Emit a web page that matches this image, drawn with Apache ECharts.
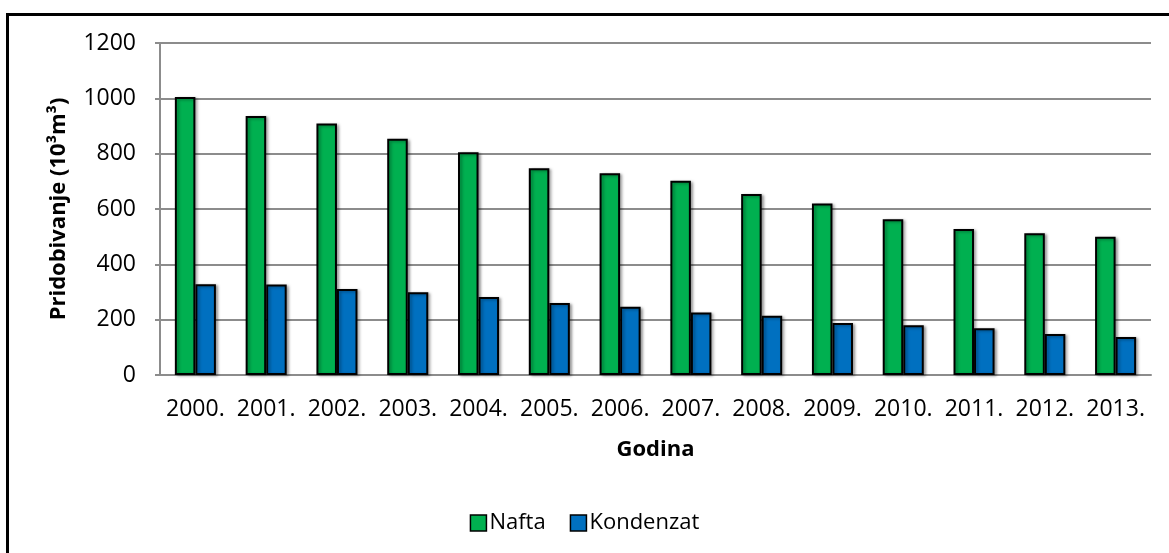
<!DOCTYPE html>
<html>
<head>
    <meta charset="utf-8">
    <script src="https://cdn.jsdelivr.net/npm/echarts@6/dist/echarts.min.js"></script>
    <style>
        html, body { margin: 0; padding: 0; background: #fff; overflow: hidden; }
        #frame { position: absolute; left: 6px; top: 13px; width: 1200px; height: 600px;
                 border-left: 3px solid #000; border-top: 3px solid #000; }
        #main { position: absolute; left: 0; top: 0; width: 1169px; height: 553px; }
    </style>
</head>
<body>
    <div id="frame"></div>
    <div id="main"></div>
    <script type="text/javascript">
        // podaci sa slike
        var godine = ['2000.', '2001.', '2002.', '2003.', '2004.', '2005.', '2006.',
                      '2007.', '2008.', '2009.', '2010.', '2011.', '2012.', '2013.'];
        var nafta = [1005, 936, 909, 854, 805, 747, 729, 702, 654, 620, 563, 528, 512, 500];
        var kondenzat = [328, 327, 311, 299, 282, 260, 247, 226, 214, 188, 180, 169, 148, 137];

        var font = '"Open Sans", "Noto Sans", sans-serif';

        var myChart = echarts.init(document.getElementById('main'));

        var barStyle = function (color) {
            return {
                color: color,
                borderColor: '#000',
                borderWidth: 2,
                shadowColor: 'rgba(0,0,0,0.35)',
                shadowBlur: 3,
                shadowOffsetX: 2,
                shadowOffsetY: 1
            };
        };

        var option = {
            backgroundColor: 'transparent',
            textStyle: { fontFamily: font },
            grid: {
                left: 160,
                right: 18,
                top: 43,
                bottom: 178
            },
            legend: {
                data: ['Nafta', 'Kondenzat'],
                left: 'center',
                top: 507,
                itemWidth: 16,
                itemHeight: 16,
                itemGap: 24,
                icon: 'rect',
                textStyle: { fontFamily: font, fontSize: 22, color: '#000', padding: [0, 0, 0, -2] },
                itemStyle: { borderColor: '#000', borderWidth: 1.5 }
            },
            xAxis: {
                type: 'category',
                data: godine,
                name: 'Godina',
                nameLocation: 'middle',
                nameGap: 64,
                nameTextStyle: { fontFamily: font, fontSize: 22, fontWeight: 'bold', color: '#000' },
                axisLine: { lineStyle: { color: '#8c8c8c', width: 2 } },
                axisTick: { show: false },
                axisLabel: { fontFamily: font, fontSize: 23, color: '#000', margin: 23, interval: 0 }
            },
            yAxis: {
                type: 'value',
                min: 0,
                max: 1200,
                interval: 200,
                name: 'Pridobivanje (10³m³)',
                nameLocation: 'middle',
                nameGap: 90,
                nameRotate: 90,
                nameTextStyle: { fontFamily: font, fontSize: 22, fontWeight: 'bold', color: '#000' },
                axisLine: { show: true, lineStyle: { color: '#8c8c8c', width: 2 } },
                axisTick: { show: true, length: 5, lineStyle: { color: '#8c8c8c', width: 2 } },
                axisLabel: {
                    fontFamily: font, fontSize: 23, color: '#000', margin: 24,
                    formatter: function (v) { return String(v); }
                },
                splitLine: { lineStyle: { color: '#8c8c8c', width: 2 } }
            },
            series: [{
                name: 'Nafta',
                type: 'bar',
                data: nafta,
                barGap: '0%',
                barCategoryGap: '42%',
                itemStyle: barStyle('#00b050')
            }, {
                name: 'Kondenzat',
                type: 'bar',
                data: kondenzat,
                itemStyle: barStyle('#0070c0')
            }]
        };

        myChart.setOption(option);
    </script>
</body>
</html>
